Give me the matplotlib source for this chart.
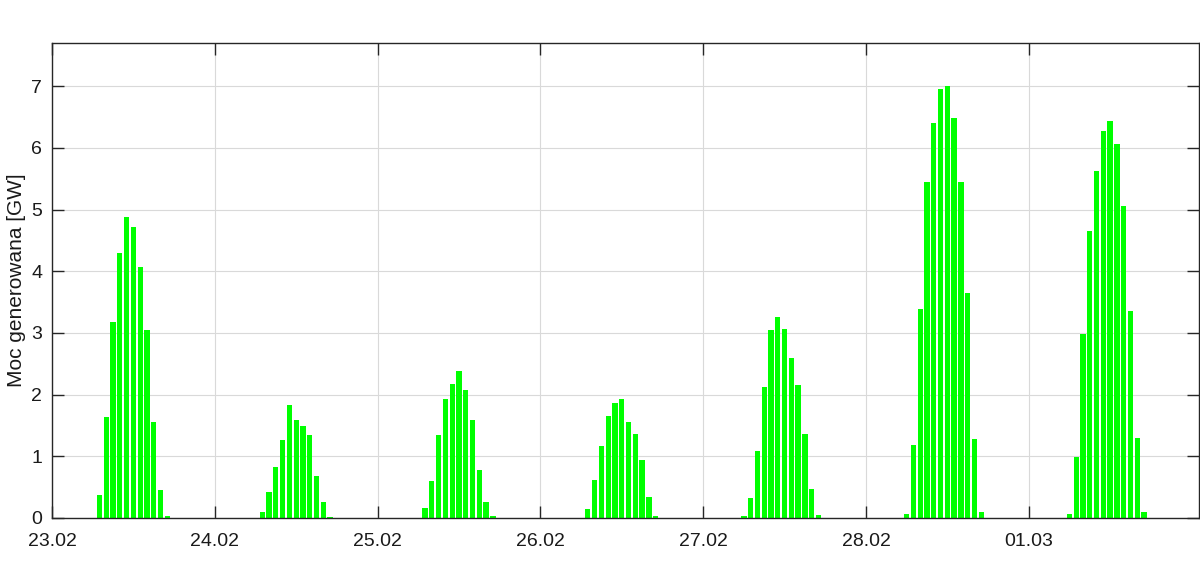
import numpy as np
import matplotlib
matplotlib.use("Agg")
import matplotlib.pyplot as plt

# Hourly generated power [GW], hours 0..23 of each day
day_labels = ["23.02", "24.02", "25.02", "26.02", "27.02", "28.02", "01.03"]

d1 = [0, 0, 0, 0, 0, 0, 0, 0.38, 1.64, 3.18, 4.29, 4.88, 4.71, 4.07, 3.04, 1.56, 0.45, 0.03, 0, 0, 0, 0, 0, 0]
d2 = [0, 0, 0, 0, 0, 0, 0, 0.10, 0.42, 0.83, 1.26, 1.83, 1.59, 1.49, 1.35, 0.68, 0.26, 0.01, 0, 0, 0, 0, 0, 0]
d3 = [0, 0, 0, 0, 0, 0, 0, 0.16, 0.60, 1.35, 1.93, 2.18, 2.39, 2.08, 1.59, 0.78, 0.26, 0.03, 0, 0, 0, 0, 0, 0]
d4 = [0, 0, 0, 0, 0, 0, 0, 0.15, 0.62, 1.17, 1.66, 1.87, 1.93, 1.56, 1.36, 0.94, 0.34, 0.03, 0, 0, 0, 0, 0, 0]
d5 = [0, 0, 0, 0, 0, 0, 0.03, 0.32, 1.09, 2.13, 3.05, 3.26, 3.07, 2.60, 2.16, 1.36, 0.47, 0.05, 0, 0, 0, 0, 0, 0]
d6 = [0, 0, 0, 0, 0, 0, 0.06, 1.18, 3.38, 5.44, 6.40, 6.95, 7.00, 6.49, 5.44, 3.65, 1.28, 0.10, 0, 0, 0, 0, 0, 0]
d7 = [0, 0, 0, 0, 0, 0, 0.06, 0.99, 2.99, 4.66, 5.63, 6.27, 6.44, 6.07, 5.05, 3.36, 1.30, 0.10, 0, 0, 0, 0, 0, 0]

power = np.concatenate([d1, d2, d3, d4, d5, d6, d7])
hours = np.arange(len(power))

plt.rcParams['font.family'] = ['Liberation Sans', 'DejaVu Sans']

fig = plt.figure(figsize=(12, 5.82), dpi=100)
ax = fig.add_axes([52 / 1200, (582 - 518) / 582, (1199 - 52) / 1200, (518 - 43) / 582])

ax.bar(hours, power, width=0.78, color='#00ff00', edgecolor='none', zorder=3)

ax.set_xlim(0, 169.1)
ax.set_ylim(0, 7.7)
ax.set_xticks(np.arange(len(day_labels)) * 24)
ax.set_xticklabels(day_labels)
ax.set_yticks(np.arange(0, 8))
ax.set_ylabel("Moc generowana [GW]", fontsize=15, color='#1a1a1a', labelpad=4)

ax.grid(True, color='#d9d9d9', linewidth=0.8, zorder=0)
ax.set_axisbelow(True)
ax.tick_params(direction='in', length=8.3, width=1.0, colors='#262626',
               labelsize=14, top=True, right=True)
ax.tick_params(axis='both', labelcolor='#1a1a1a')
ax.tick_params(axis='x', pad=10.5)
ax.tick_params(axis='y', pad=7)
for s in ax.spines.values():
    s.set_color('#262626')
    s.set_linewidth(1.0)
    s.set_zorder(4)

fig.savefig("out.png", dpi=100, facecolor='white')
